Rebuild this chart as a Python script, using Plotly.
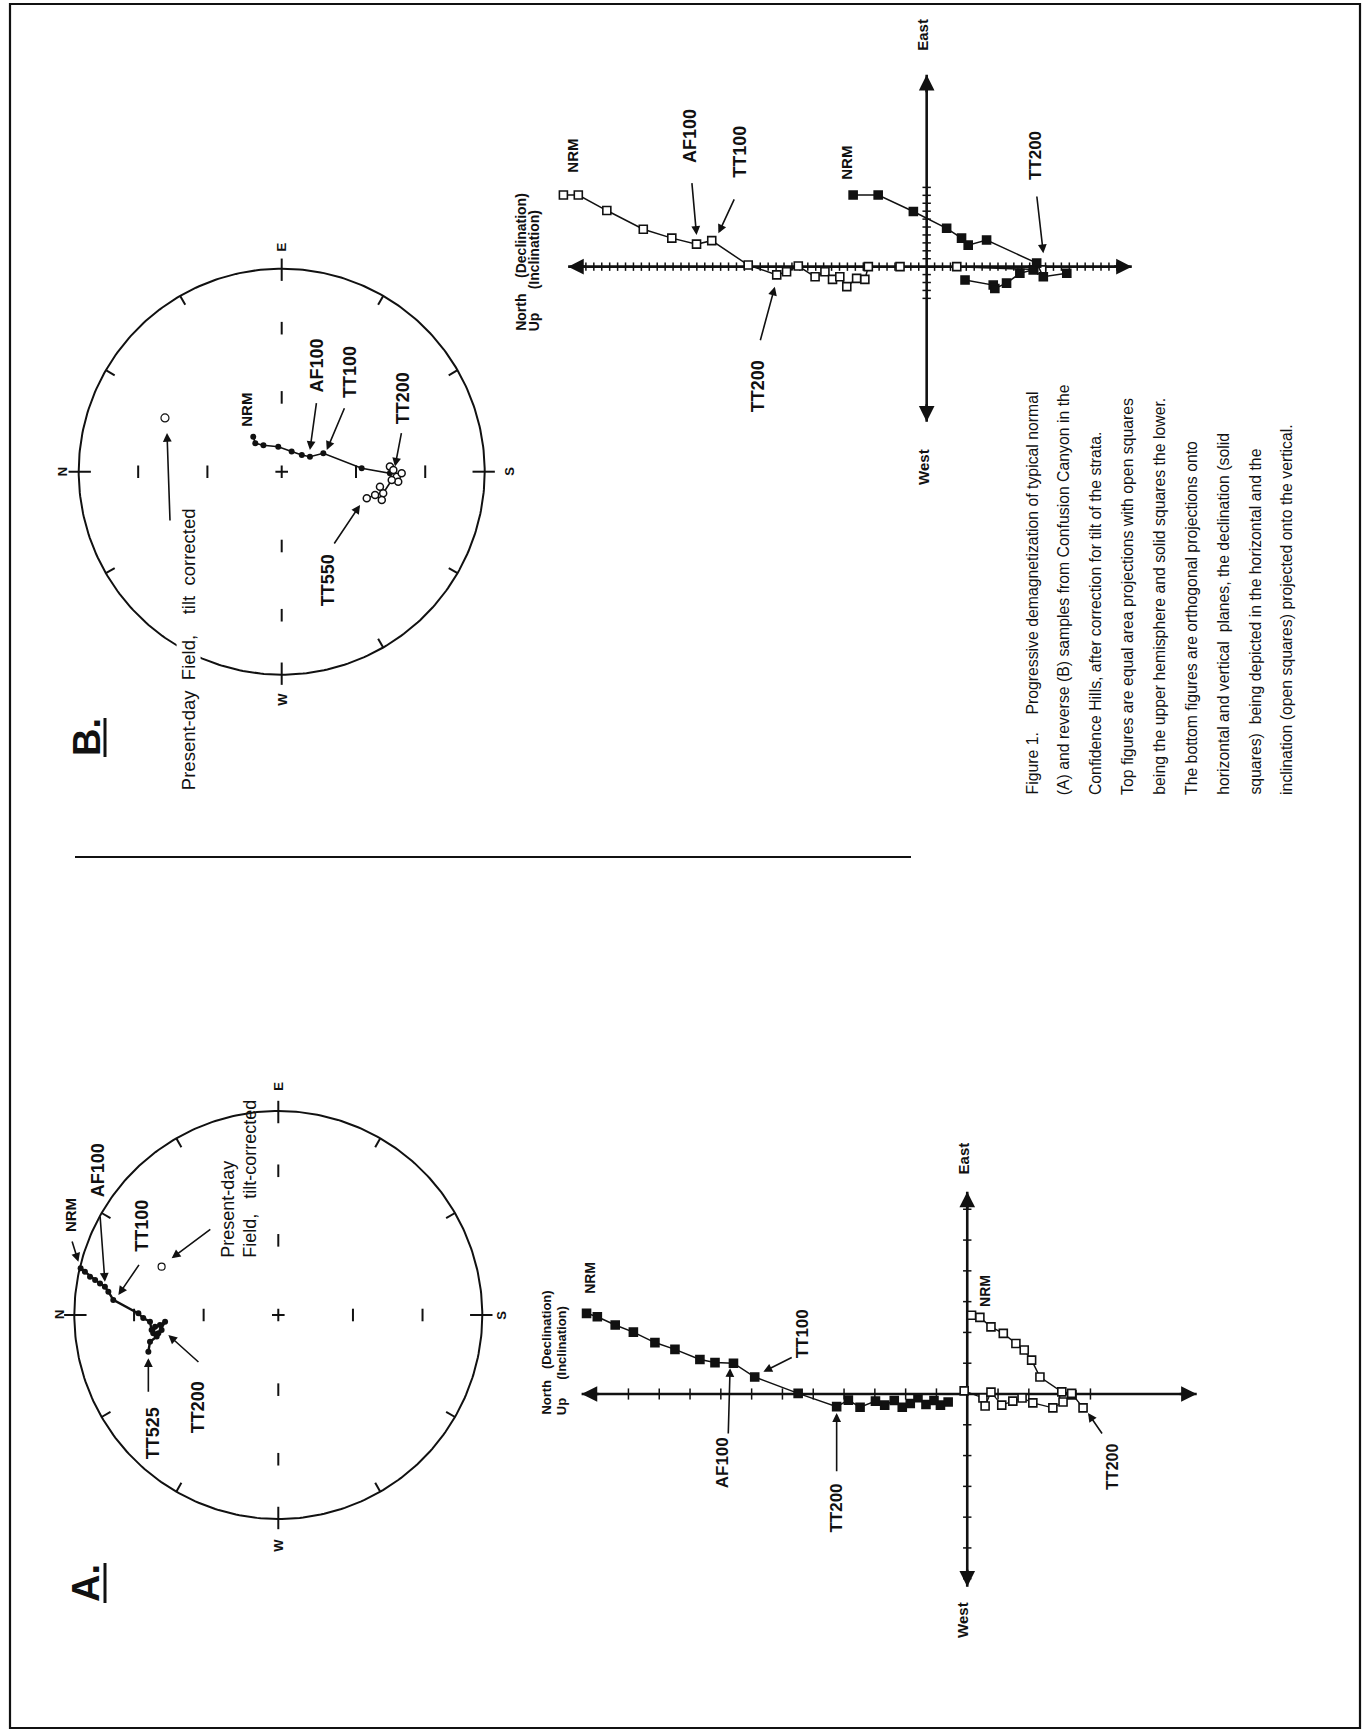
import numpy as np
import plotly.graph_objects as go

W, H = 1368, 1731

# ===================== DATA =====================
# --- Top figures: equal-area nets, projected north / east components (unit net radius)
net_a_north = [0.969, 0.948, 0.923, 0.898, 0.874, 0.850, 0.833, 0.809, 0.686, 0.662, 0.629,
               0.621, 0.604, 0.613, 0.588, 0.572, 0.580, 0.555, 0.596, 0.629, 0.637]
net_a_east = [0.229, 0.212, 0.188, 0.172, 0.155, 0.139, 0.114, 0.074, 0.008, -0.015, -0.033,
              -0.074, -0.057, -0.090, -0.090, -0.074, -0.049, -0.033, -0.106, -0.131, -0.180]
pdf_a_north = [0.572]
pdf_a_east = [0.237]

net_b_north_solid = [0.140, 0.130, 0.090, 0.017, -0.049, -0.099, -0.139, -0.205, -0.394, -0.533]
net_b_east_solid = [0.172, 0.140, 0.130, 0.123, 0.099, 0.082, 0.074, 0.091, 0.017, -0.008]
net_b_north_open = [-0.533, -0.550, -0.567, -0.591, -0.574, -0.542, -0.500, -0.484, -0.493, -0.460, -0.419]
net_b_east_open = [0.025, 0.008, -0.025, -0.008, -0.049, -0.041, -0.106, -0.074, -0.139, -0.115, -0.131]
pdf_b_north = [0.575]
pdf_b_east = [0.265]

net_tick_radii = [0.366, 0.707]          # 60 and 30 degree inclination rings

# --- Bottom figures: orthogonal (Zijderveld) projections, arbitrary intensity units
zij_a_solid_x = [12.36, 12.01, 11.43, 10.84, 10.14, 9.49, 8.68, 8.19, 7.59, 6.90, 5.49, 4.24, 3.86,
                 3.48, 2.98, 2.68, 2.37, 2.11, 1.85, 1.60, 1.34, 1.08, 0.87, 0.62]
zij_a_solid_y = [2.62, 2.51, 2.24, 2.01, 1.67, 1.45, 1.12, 1.02, 1.00, 0.55, 0.02, -0.41, -0.20,
                 -0.43, -0.23, -0.36, -0.21, -0.43, -0.31, -0.12, -0.34, -0.21, -0.36, -0.26]
zij_a_open_x = [-0.14, -0.41, -0.77, -1.17, -1.58, -1.85, -2.09, -2.36, -3.07, -3.39, -3.76]
zij_a_open_y = [2.56, 2.49, 2.18, 1.97, 1.64, 1.43, 1.10, 0.55, 0.07, 0.02, -0.45]
zij_a_open2_x = [0.10, -0.51, -0.58, -0.77, -1.12, -1.48, -1.78, -2.13, -2.78, -3.11, -3.40]
zij_a_open2_y = [0.10, -0.13, -0.39, 0.06, -0.36, -0.23, -0.13, -0.29, -0.45, -0.26, -0.03]

zij_b_open_x = [11.46, 10.99, 10.09, 8.94, 8.04, 7.26, 6.78, 5.63, 4.73, 4.42, 4.05, 3.52, 3.21,
                2.97, 2.74, 2.52, 2.21, 1.95, 1.84, 0.84, -0.95, -3.63]
zij_b_open_y = [2.26, 2.26, 1.77, 1.18, 0.90, 0.71, 0.82, 0.05, -0.26, -0.16, 0.02, -0.32, -0.16,
                -0.40, -0.32, -0.63, -0.37, -0.40, 0.00, 0.00, 0.00, -0.10]
zij_b_solid_x = [2.32, 1.53, 0.42, -0.63, -1.10, -1.31, -1.89, -3.47, -3.68, -4.42]
zij_b_solid_y = [2.26, 2.26, 1.74, 1.21, 0.90, 0.68, 0.84, 0.11, -0.32, -0.21]
zij_b_solid2_x = [-1.21, -2.10, -2.15, -2.52, -2.94, -3.36]
zij_b_solid2_y = [-0.42, -0.58, -0.69, -0.52, -0.21, -0.10]

caption_lines = [
    "Figure 1.\u00a0\u00a0\u00a0\u00a0Progressive demagnetization of typical normal",
    "(A) and reverse (B) samples from Confusion Canyon in the",
    "Confidence Hills, after correction for tilt of the strata.",
    "Top figures are equal area projections with open squares",
    "being the upper hemisphere and solid squares the lower.",
    "The bottom figures are orthogonal projections onto",
    "horizontal and vertical\u00a0\u00a0planes, the declination (solid",
    "squares)\u00a0\u00a0being depicted in the horizontal and the",
    "inclination (open squares) projected onto the vertical.",
]

# ===================== FIGURE =====================
FONT = "Liberation Sans, Arial, sans-serif"
BLACK = "#111111"
fig = go.Figure()


def xdom(p0, p1):
    return [p0 / W, p1 / W]


def ydom(p0, p1):
    return [1 - p1 / H, 1 - p0 / H]


ann = []


def label(text, x, y, ax, size=18, bold=True, yanchor="middle", bg=None, family=FONT):
    t = f"<b>{text}</b>" if bold else text
    d = dict(text=t, x=x, y=y, xref="x" + ax, yref="y" + ax, showarrow=False, textangle=-90,
             font=dict(size=size, color=BLACK, family=family), xanchor="center", yanchor=yanchor)
    if bg:
        d["bgcolor"] = bg
    ann.append(d)


def arrow(hx, hy, tx, ty, ax, width=1.6, size=1.1):
    ann.append(dict(text="", x=hx, y=hy, ax=tx, ay=ty, xref="x" + ax, yref="y" + ax,
                    axref="x" + ax, ayref="y" + ax, showarrow=True, arrowhead=2,
                    arrowsize=size, arrowwidth=width, arrowcolor=BLACK, standoff=0))


# ---------- equal-area nets ----------
def draw_net(xa, ya):
    th = np.linspace(0, 2 * np.pi, 361)
    fig.add_trace(go.Scatter(x=np.cos(th), y=np.sin(th), mode="lines", xaxis=xa, yaxis=ya,
                             line=dict(color=BLACK, width=2), hoverinfo="skip"))
    tx, ty = [], []
    for az in range(0, 360, 30):
        a = np.radians(az)
        r0, r1 = (0.94, 1.05) if az % 90 == 0 else (0.95, 1.0)
        tx += [r0 * np.cos(a), r1 * np.cos(a), None]
        ty += [r0 * np.sin(a), r1 * np.sin(a), None]
    fig.add_trace(go.Scatter(x=tx, y=ty, mode="lines", xaxis=xa, yaxis=ya,
                             line=dict(color=BLACK, width=2), hoverinfo="skip"))
    ix, iy = [], []
    for r in net_tick_radii:
        ix += [r, -r, 0, 0]
        iy += [0, 0, r, -r]
    fig.add_trace(go.Scatter(x=ix, y=iy, mode="markers", xaxis=xa, yaxis=ya,
                             marker=dict(symbol="line-ns", size=9, line=dict(color=BLACK, width=2)),
                             hoverinfo="skip"))
    fig.add_trace(go.Scatter(x=[0], y=[0], mode="markers", xaxis=xa, yaxis=ya,
                             marker=dict(symbol="cross-thin", size=9, line=dict(color=BLACK, width=2)),
                             hoverinfo="skip"))


draw_net("x", "y")
fig.add_trace(go.Scatter(x=net_a_north, y=net_a_east, mode="lines+markers", xaxis="x", yaxis="y",
                         line=dict(color=BLACK, width=2.4),
                         marker=dict(symbol="circle", size=6, color=BLACK)))
fig.add_trace(go.Scatter(x=pdf_a_north, y=pdf_a_east, mode="markers", xaxis="x", yaxis="y",
                         marker=dict(symbol="circle-open", size=7, color=BLACK,
                                     line=dict(color=BLACK, width=1.2))))

draw_net("x2", "y2")
fig.add_trace(go.Scatter(x=net_b_north_solid + net_b_north_open, y=net_b_east_solid + net_b_east_open,
                         mode="lines", xaxis="x2", yaxis="y2", line=dict(color=BLACK, width=1.6)))
fig.add_trace(go.Scatter(x=net_b_north_solid, y=net_b_east_solid, mode="markers", xaxis="x2", yaxis="y2",
                         marker=dict(symbol="circle", size=6, color=BLACK)))
fig.add_trace(go.Scatter(x=net_b_north_open, y=net_b_east_open, mode="markers", xaxis="x2", yaxis="y2",
                         marker=dict(symbol="circle", size=7, color="white",
                                     line=dict(color=BLACK, width=1.5))))
fig.add_trace(go.Scatter(x=pdf_b_north, y=pdf_b_east, mode="markers", xaxis="x2", yaxis="y2",
                         marker=dict(symbol="circle-open", size=8, color=BLACK,
                                     line=dict(color=BLACK, width=1.2))))

# net A labels
for t, x, y in [("N", 1.075, 0), ("S", -1.09, 0), ("E", 0, 1.12), ("W", 0, -1.13)]:
    label(t, x, y, "", size=13)
label("NRM", 1.021, 0.490, "", size=15)
arrow(0.980, 0.261, 1.013, 0.368, "")
label("AF100", 0.882, 0.711, "", size=18)
arrow(0.850, 0.163, 0.874, 0.490, "")
label("TT100", 0.670, 0.436, "", size=18)
arrow(0.784, 0.098, 0.678, 0.253, "")
label("TT200", 0.392, -0.451, "", size=18)
arrow(0.539, -0.098, 0.384, -0.237, "")
label("TT525", 0.613, -0.578, "", size=18)
arrow(0.637, -0.212, 0.637, -0.384, "")
arrow(0.523, 0.278, 0.326, 0.425, "")
label("Present-day", 0.245, 0.270, "", size=18, bold=False, yanchor="bottom")
label("Field,\u00a0\u00a0\u00a0tilt-corrected", 0.139, 0.270, "", size=18, bold=False, yanchor="bottom")

# net B labels
for t, x, y in [("N", 1.08, 0), ("S", -1.125, 0), ("E", 0, 1.108), ("W", 0, -1.12)]:
    label(t, x, y, "2", size=13)
label("NRM", 0.172, 0.304, "2", size=15)
label("AF100", -0.172, 0.521, "2", size=18)
arrow(-0.139, 0.107, -0.172, 0.345, "2")
label("TT100", -0.336, 0.491, "2", size=18)
arrow(-0.222, 0.107, -0.312, 0.320, "2")
label("TT200", -0.599, 0.363, "2", size=18)
arrow(-0.558, 0.025, -0.591, 0.197, "2")
label("TT550", -0.230, -0.533, "2", size=18)
arrow(-0.386, -0.164, -0.254, -0.361, "2")
arrow(0.565, 0.191, 0.550, -0.248, "2")
label("Present-day\u00a0\u00a0Field,\u00a0\u00a0\u00a0\u00a0tilt\u00a0\u00a0corrected", 0.461, -1.578, "2",
      size=18.5, bold=False, yanchor="bottom", bg="white")


# ---------- orthogonal projections ----------
def draw_zij(ax, xl, xr, yt, yb_, xticks, yticks, tsize_x, tsize_y):
    xa_, ya_ = "x" + ax, "y" + ax
    fig.add_trace(go.Scatter(x=[xl, xr, None, 0, 0], y=[0, 0, None, yt, yb_], mode="lines",
                             xaxis=xa_, yaxis=ya_, line=dict(color=BLACK, width=2.6), hoverinfo="skip"))
    fig.add_trace(go.Scatter(x=xticks, y=[0] * len(xticks), mode="markers", xaxis=xa_, yaxis=ya_,
                             marker=dict(symbol="line-ns", size=tsize_x, line=dict(color=BLACK, width=1.5)),
                             hoverinfo="skip"))
    fig.add_trace(go.Scatter(x=[0] * len(yticks), y=yticks, mode="markers", xaxis=xa_, yaxis=ya_,
                             marker=dict(symbol="line-ew", size=tsize_y, line=dict(color=BLACK, width=1.5)),
                             hoverinfo="skip"))
    for hx, hy, tx, ty in [(xl, 0, xl - 0.6 * np.sign(xl), 0), (xr, 0, xr - 0.6 * np.sign(xr), 0),
                           (0, yt, 0, yt - 0.6), (0, yb_, 0, yb_ + 0.6)]:
        arrow(hx, hy, tx, ty, ax, width=2.6, size=1.2)


def sq(x, y, ax, filled, lw=1.5, size=8):
    fig.add_trace(go.Scatter(
        x=x, y=y, mode="lines+markers", xaxis="x" + ax, yaxis="y" + ax,
        line=dict(color=BLACK, width=lw),
        marker=dict(symbol="square", size=size,
                    color=BLACK if filled else "white", line=dict(color=BLACK, width=1.6))))


# A
draw_zij("3", 12.52, -7.45, 6.57, -6.26,
         list(range(1, 12)) + [-1, -2, -3, -4],
         [v for v in range(-6, 7) if v != 0], 8, 6)
sq(zij_a_solid_x, zij_a_solid_y, "3", True)
sq(zij_a_open2_x, zij_a_open2_y, "3", False, lw=1.2)
sq(zij_a_open_x, zij_a_open_y, "3", False)

label("NRM", 12.25, 3.77, "3", size=14)
label("TT100", 5.32, 1.95, "3", size=17)
arrow(6.62, 0.72, 5.65, 1.21, "3")
label("AF100", 7.92, -2.24, "3", size=17)
arrow(7.70, 0.84, 7.76, -1.33, "3")
label("TT200", 4.24, -3.70, "3", size=17)
arrow(4.24, -0.62, 4.24, -2.56, "3")
label("NRM", -0.57, 3.34, "3", size=14)
label("TT200", -4.73, -2.37, "3", size=16)
arrow(-3.92, -0.62, -4.41, -1.33, "3")
label("East", 0.13, 7.66, "3", size=15)
label("West", 0.14, -7.34, "3", size=15)
label("North\u00a0\u00a0\u00a0(Declination)", 13.66, -0.75, "3", size=13, yanchor="bottom")
label("Up\u00a0\u00a0\u00a0\u00a0\u00a0(Inclination)", 13.17, -0.75, "3", size=13, yanchor="bottom")

# B
draw_zij("4", 11.31, -6.47, 6.05, -4.89,
         [v / 4 for v in range(-24, 45) if v != 0],
         [v / 4 for v in range(-4, 11) if v != 0], 6, 6)
sq(zij_b_open_x, zij_b_open_y, "4", False)
sq(zij_b_solid_x, zij_b_solid_y, "4", True)
sq(zij_b_solid2_x, zij_b_solid2_y, "4", True)

label("NRM", 11.20, 3.49, "4", size=15)
label("AF100", 7.47, 4.12, "4", size=18)
arrow(7.26, 1.00, 7.41, 2.68, "4")
label("TT100", 5.89, 3.62, "4", size=18)
arrow(6.57, 1.05, 6.05, 2.17, "4")
label("TT200", 5.31, -3.76, "4", size=18)
arrow(4.79, -0.63, 5.26, -2.37, "4")
label("NRM", 2.52, 3.27, "4", size=15)
label("TT200", -3.42, 3.49, "4", size=17)
arrow(-3.68, 0.42, -3.47, 2.26, "4")
label("East", 0.12, 7.31, "4", size=15)
label("West", 0.12, -6.32, "4", size=15)
label("North\u00a0\u00a0\u00a0\u00a0(Declination)", 12.80, -2.09, "4", size=14, yanchor="bottom")
label("Up\u00a0\u00a0\u00a0\u00a0\u00a0\u00a0(Inclination)", 12.36, -2.09, "4", size=14, yanchor="bottom")

# ---------- panel letters and caption ----------
for t, px, py in [("A.", 86, 1583), ("B.", 87, 737)]:
    ann.append(dict(text=f"<b>{t}</b>", x=px / W, y=1 - py / H, xref="paper", yref="paper",
                    showarrow=False, textangle=-90, xanchor="center", yanchor="middle",
                    font=dict(size=38, color=BLACK, family=FONT)))

for i, line in enumerate(caption_lines):
    ann.append(dict(text=line, x=(1032 + 31.8 * i) / W, y=1 - 797 / H, xref="paper", yref="paper",
                    showarrow=False, textangle=-90, xanchor="center", yanchor="bottom",
                    font=dict(size=15.8, color=BLACK, family=FONT)))

shapes = [
    dict(type="rect", xref="paper", yref="paper", x0=10 / W, x1=1360 / W, y0=1 - 1728 / H, y1=1 - 4 / H,
         line=dict(color=BLACK, width=2.2)),
    dict(type="line", xref="paper", yref="paper", x0=75 / W, x1=911 / W, y0=1 - 857 / H, y1=1 - 857 / H,
         line=dict(color=BLACK, width=2)),
    dict(type="line", xref="paper", yref="paper", x0=105 / W, x1=105 / W, y0=1 - 1603 / H, y1=1 - 1563 / H,
         line=dict(color=BLACK, width=3)),
    dict(type="line", xref="paper", yref="paper", x0=105 / W, x1=105 / W, y0=1 - 757 / H, y1=1 - 718 / H,
         line=dict(color=BLACK, width=3)),
]

common = dict(visible=False, fixedrange=True)
fig.update_layout(
    width=W, height=H, margin=dict(l=0, r=0, t=0, b=0), autosize=False,
    paper_bgcolor="white", plot_bgcolor="rgba(0,0,0,0)", showlegend=False,
    font=dict(family=FONT, color=BLACK),
    xaxis=dict(domain=xdom(28.3, 528.3), range=[1.2255, -1.2255], anchor="y", **common),
    yaxis=dict(domain=ydom(1015, 1615), range=[-1.4706, 1.4706], anchor="x", **common),
    xaxis2=dict(domain=xdom(31.7, 531.7), range=[1.2315, -1.2315], anchor="y2", **common),
    yaxis2=dict(domain=ydom(121.7, 821.7), range=[-1.7241, 1.7241], anchor="x2", **common),
    xaxis3=dict(domain=xdom(500, 1250), range=[15.17, -9.18], anchor="y3", **common),
    yaxis3=dict(domain=ydom(1120, 1680), range=[-9.29, 8.90], anchor="x3", **common),
    xaxis4=dict(domain=xdom(500, 1250), range=[13.46, -10.2], anchor="y4", **common),
    yaxis4=dict(domain=ydom(0, 520), range=[-7.99, 8.41], anchor="x4", **common),
    annotations=ann, shapes=shapes,
)
for tr in fig.data:
    tr.showlegend = False
    if tr.hoverinfo is None:
        tr.hoverinfo = "skip"

fig.write_html("out.html", config={"displayModeBar": False},
               post_script="document.body.style.margin='0px';")
